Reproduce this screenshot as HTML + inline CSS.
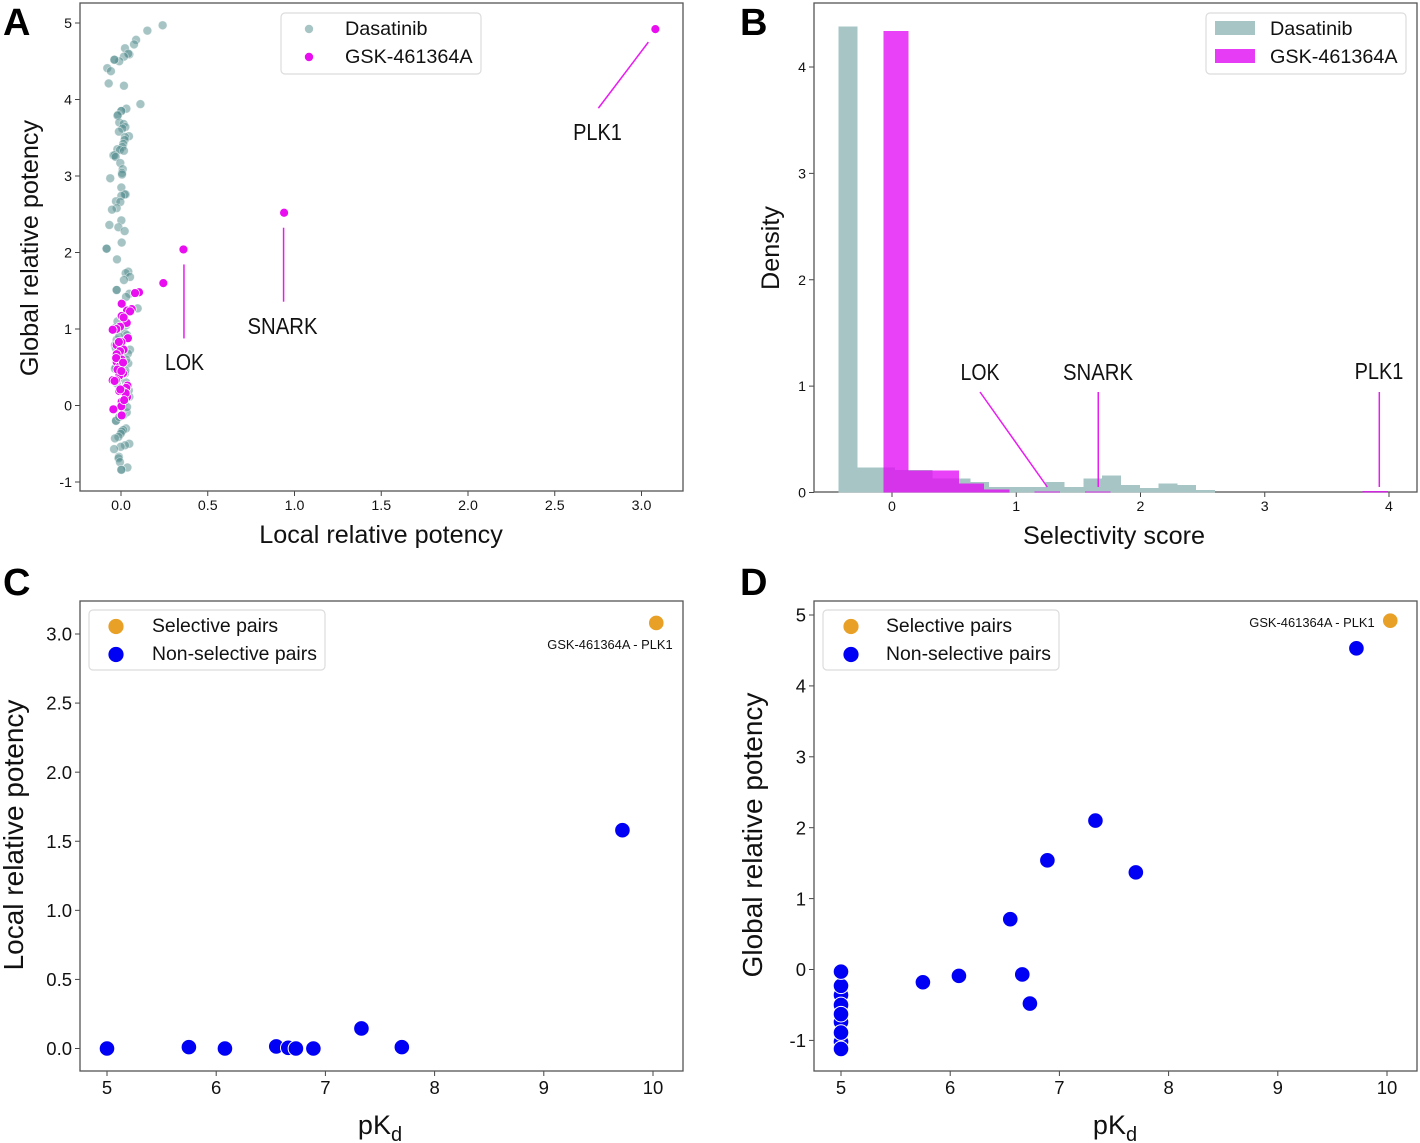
<!DOCTYPE html>
<html lang="en">
<head>
<meta charset="utf-8">
<title>Kinase inhibitor selectivity panels</title>
<style>
html,body{margin:0;padding:0;background:#fff;}
svg{display:block;font-family:"Liberation Sans",sans-serif;}
</style>
</head>
<body>
<svg id="fig" xmlns="http://www.w3.org/2000/svg" width="1420" height="1143" viewBox="0 0 1420 1143"></svg>
<script>
const dasatinibLocal=[.24,.152,.087,.075,.023,.048,.042,.017,-.01,-.038,-.038,-.079,-.058,-.071,.017,.112,.031,.002,.002,-.017,-.02,-.01,.015,.025,.008,-.012,.046,.023,.021,.013,.008,-.021,-.006,.017,-.044,-.038,-.031,-.004,.01,.006,.006,-.062,.002,.027,.022,.002,-.029,-.004,-.025,-.052,.002,-.067,-.015,.021,.004,-.083,-.083,-.023,.042,.027,.052,.017,-.025,-.025,.048,.029,.096,.06,.023,-.025,-.035,.052,.042,-.029,.023,-.025,.048,.01,.033,.013,-.029,-.029,.029,.013,.004,-.002,-.015,-.035,.048,.023,-.002,-.04,-.012,-.014,-.006,.037,.002,.002,.01,-.02,.03,-.03,.035,-.01,-.03,.04,-.02,.03,-.035,.025,-.01,.03,.045,.02,.035,-.01];
const dasatinibGlobal=[4.97,4.90,4.78,4.72,4.67,4.59,4.60,4.56,4.50,4.52,4.52,4.41,4.37,4.21,4.18,3.94,3.88,3.85,3.85,3.80,3.79,3.70,3.68,3.64,3.62,3.58,3.52,3.51,3.47,3.42,3.38,3.35,3.34,3.33,3.27,3.27,3.25,3.17,3.09,3.04,3.02,2.97,2.85,2.76,2.76,2.74,2.67,2.66,2.58,2.56,2.42,2.36,2.33,2.28,2.13,2.05,2.05,1.91,1.75,1.73,1.68,1.64,1.51,1.51,1.46,1.42,1.27,1.26,.94,.86,.79,.73,.55,.50,.42,.29,.115,.0,-.09,-.13,-.20,-.20,-.30,-.32,-.34,-.37,-.41,-.43,-.50,-.52,-.54,-.57,-.67,-.69,-.74,-.81,-.84,-.84,1.15,1.1,1.05,1.02,.92,.9,.75,.68,.64,.6,.48,.46,.36,.3,.2,.05,-.02,-.15];
const gskLocal=[.104,.081,.244,.004,.062,.035,.004,.033,-.006,-.027,-.048,.04,.002,-.025,.015,-.006,-.025,.004,-.025,-.008,.012,-.01,-.029,-.048,.037,.03,-.01,.013,.035,.004,.002,-.044,.004,.052,.015,-.012,-.028,.012,-.02,.002,-.037,.027,.018,-.004,.36,.94,3.08];
const gskGlobal=[1.48,1.47,1.60,1.33,1.26,1.24,1.17,1.08,1.03,1.00,.99,.88,.83,.79,.73,.71,.67,.60,.57,.51,.42,.39,.33,.33,.26,.23,.19,.18,.11,.05,-.01,-.05,-.13,1.23,1.15,.83,.62,.56,.47,.45,.32,.16,.07,.21,2.04,2.52,4.92];
const aXTicks=["0.0","0.5","1.0","1.5","2.0","2.5","3.0"];
const aYTicks=["-1","0","1","2","3","4","5"];

const dasatinibBinStart=-0.43;
const dasatinibBinWidth=0.1515;
const dasatinibDensity=[4.38,.235,.235,.21,.21,.13,.13,.10,.053,.053,.053,.10,.053,.13,.16,.07,.04,.085,.07,.025];
const gskBinStart=-0.07;
const gskBinWidth=0.203;
const gskDensity=[4.34,.207,.207,.085,.03,0,.01,0,.01,0,0,0,0,0,0,0,0,0,0,.012];
const selectivityTargets=["LOK","SNARK","PLK1"];
const selectivityScores=[1.25,1.66,3.93];
const bXTicks=["0","1","2","3","4"];
const bYTicks=["0","1","2","3","4"];

const pKd=[5,5.75,6.08,6.55,6.66,6.73,6.89,7.33,7.70,9.72];
const localPotency=[0,.01,0,.015,.005,0,0,.145,.01,1.58];
const selectivePkd=[10.03];
const selectiveLocal=[3.08];
const cXTicks=["5","6","7","8","9","10"];
const cYTicks=["0.0","0.5","1.0","1.5","2.0","2.5","3.0"];

const pKdD=[5,5,5,5,5,5,5,5,5,5.75,6.08,6.66,6.73,6.55,6.89,7.33,7.70,9.72];
const globalPotency=[-.36,-.74,-1.02,-.5,-.23,-.03,-.63,-.89,-1.12,-.18,-.09,-.07,-.48,.71,1.54,2.1,1.37,4.53];
const selectiveGlobal=[4.92];
const dXTicks=["5","6","7","8","9","10"];
const dYTicks=["-1","0","1","2","3","4","5"];

const NS="http://www.w3.org/2000/svg";
const fig=document.getElementById("fig");
function mk(tag,attrs,parent,txt){
  const e=document.createElementNS(NS,tag);
  for(const k in attrs)e.setAttribute(k,attrs[k]);
  if(txt!==undefined)e.textContent=txt;
  (parent||fig).appendChild(e);
  return e;
}
function linear(d0,p0,d1,p1){return v=>p0+(v-d0)*(p1-p0)/(d1-d0);}

function frame(name,box,xs,ys,xt,yt,size){
  const g=mk("g",{},fig);
  
  
  xt.forEach(t=>{
    const x=xs(parseFloat(t));
    const tick=mk("line",{x1:x,x2:x,y1:box.b,y2:box.b+5,stroke:"#444","stroke-width":1},g);
    
    
    const lab=mk("text",{x:x,y:box.b+5+size*.98,"text-anchor":"middle","font-size":size,fill:"#111"},g,t);
    
    
  });
  yt.forEach(t=>{
    const y=ys(parseFloat(t));
    const tick=mk("line",{x1:box.l-5,x2:box.l,y1:y,y2:y,stroke:"#444","stroke-width":1},g);
    
    
    const lab=mk("text",{x:box.l-8,y:y+size*.36,"text-anchor":"end","font-size":size,fill:"#111"},g,t);
    
    
  });
  const r=mk("rect",{x:box.l,y:box.t,width:box.r-box.l,height:box.b-box.t,fill:"none",stroke:"#555","stroke-width":1.3},g);
  
  
}
function panelLetter(t,x,y){
  const e=mk("text",{x:x,y:y,"font-size":38,"font-weight":"bold",fill:"#000"},fig,t);
  
  
}
function xTitle(t,x,y,size,nm){
  const e=mk("text",{x:x,y:y,"text-anchor":"middle","font-size":size,fill:"#111"},fig,t);
  
  
  return e;
}
function yTitle(t,x,y,size,nm){
  const e=mk("text",{x:0,y:0,transform:"translate("+x+" "+y+") rotate(-90)","text-anchor":"middle","font-size":size,fill:"#111"},fig,t);
  
  
  return e;
}
function pkdTitle(x,y,nm){
  const e=mk("text",{x:x,y:y,"text-anchor":"middle","font-size":27,fill:"#111"},fig);
  
  
  mk("tspan",{},e,"pK");
  mk("tspan",{dy:7,"font-size":20},e,"d");
}
function legendBox(x,y,w,h,nm){
  const e=mk("rect",{x:x,y:y,width:w,height:h,rx:4,fill:"#fff",stroke:"#dcdcdc","stroke-width":1.2},fig);
  
  
}
function legendText(t,x,y,size){
  const e=mk("text",{x:x,y:y,"font-size":size,fill:"#111"},fig,t);
  
  
}
function annotation(t,x1,y1,x2,y2,tx,ty){
  const l=mk("line",{x1:x1,y1:y1,x2:x2,y2:y2,stroke:"#e81cf0","stroke-width":1.5},fig);
  
  
  const e=mk("text",{x:tx,y:ty,"text-anchor":"middle","font-size":23,fill:"#111",textLength:t.length*(t==="LOK"?13:(t==="PLK1"?12.2:14)),lengthAdjust:"spacingAndGlyphs"},fig,t);
  
  
}

/* Panel A */
const boxA={l:80,r:683,t:3,b:491};
const xA=linear(0,121,3,641.5), yA=linear(0,405.5,5,23);
frame("panel-a",boxA,xA,yA,aXTicks,aYTicks,14.2);
dasatinibLocal.forEach((v,i)=>{
  const c=mk("circle",{cx:xA(v),cy:yA(dasatinibGlobal[i]),r:4.4,fill:"#4f8a8b","fill-opacity":.5,stroke:"#fff","stroke-opacity":.5,"stroke-width":.7});
  
  
});
gskLocal.forEach((v,i)=>{
  const c=mk("circle",{cx:xA(v),cy:yA(gskGlobal[i]),r:4.5,fill:"#e80ef0",stroke:"#fff","stroke-width":.8});
  
  
});
legendBox(281,13,200,61,"panel-a-legend");
let lm=mk("circle",{cx:309,cy:29,r:4.2,fill:"#a7c5c5"});


lm=mk("circle",{cx:309,cy:57,r:4.2,fill:"#e80ef0"});


legendText("Dasatinib",345,35,19.8);
legendText("GSK-461364A",345,63,19.8);
const nA=gskLocal.length;
annotation("LOK",xA(gskLocal[nA-3])+.5,yA(gskGlobal[nA-3])+15,xA(gskLocal[nA-3])+.5,yA(gskGlobal[nA-3])+89,184.5,370);
annotation("SNARK",xA(gskLocal[nA-2])-.5,yA(gskGlobal[nA-2])+15,xA(gskLocal[nA-2])-.5,yA(gskGlobal[nA-2])+89,282.5,334);
annotation("PLK1",xA(gskLocal[nA-1])-7,yA(gskGlobal[nA-1])+13,xA(gskLocal[nA-1])-57,yA(gskGlobal[nA-1])+79,597.5,140);
xTitle("Local relative potency",381,543,25.2,"panel-a-x-axis-title");
yTitle("Global relative potency",38,248,25.2,"panel-a-y-axis-title");
panelLetter("A",3,35);

/* Panel B */
const boxB={l:814,r:1417,t:3,b:492};
const xB=linear(0,892,4,1389), yB=linear(0,492.5,4,67);
frame("panel-b",boxB,xB,yB,bXTicks,bYTicks,14.2);
dasatinibDensity.forEach((d,i)=>{
  const x0=xB(dasatinibBinStart+i*dasatinibBinWidth), x1=xB(dasatinibBinStart+(i+1)*dasatinibBinWidth);
  const r=mk("rect",{x:x0,y:yB(d),width:x1-x0,height:yB(0)-yB(d),fill:"#a7c5c4","shape-rendering":"crispEdges"});
  
  
});
gskDensity.forEach((d,i)=>{
  const x0=xB(gskBinStart+i*gskBinWidth), x1=xB(gskBinStart+(i+1)*gskBinWidth);
  const r=mk("rect",{x:x0,y:yB(d),width:x1-x0,height:yB(0)-yB(d),fill:"#e20cf5","fill-opacity":.78,"shape-rendering":"crispEdges"});
  
  
});
legendBox(1206,13,200,61,"panel-b-legend");
lm=mk("rect",{x:1215,y:21,width:40,height:14,fill:"#a7c5c4"});


lm=mk("rect",{x:1215,y:49,width:40,height:14,fill:"#e63cf5"});


legendText("Dasatinib",1270,35,19.8);
legendText("GSK-461364A",1270,63,19.8);
annotation(selectivityTargets[0],980,392,xB(selectivityScores[0])+0,487,980,380);
annotation(selectivityTargets[1],xB(selectivityScores[1]),392,xB(selectivityScores[1]),487,1098,380);
annotation(selectivityTargets[2],xB(selectivityScores[2])-1,392,xB(selectivityScores[2])-1,487,1379,379);
xTitle("Selectivity score",1114,544,25.2,"panel-b-x-axis-title");
yTitle("Density",779,248,25.2,"panel-b-y-axis-title");
panelLetter("B",740,35);

/* Panel C */
const boxC={l:80,r:683,t:601,b:1071};
const xC=linear(5,107,10,653), yC=linear(0,1048.5,3,634);
frame("panel-c",boxC,xC,yC,cXTicks,cYTicks,18.5);
pKd.forEach((v,i)=>{
  const c=mk("circle",{cx:xC(v),cy:yC(localPotency[i]),r:7.8,fill:"#0000f5",stroke:"#fff","stroke-width":1});
  
  
});
selectivePkd.forEach((v,i)=>{
  const c=mk("circle",{cx:xC(v),cy:yC(selectiveLocal[i]),r:7.8,fill:"#e8a026",stroke:"#fff","stroke-width":1});
  
  
});
let pl=mk("text",{x:610,y:649,"text-anchor":"middle","font-size":12.9,fill:"#111"},fig,"GSK-461364A - PLK1");


legendBox(89,610,236,60,"panel-c-legend");
lm=mk("circle",{cx:116,cy:626.5,r:7.6,fill:"#e8a026"});


lm=mk("circle",{cx:116,cy:654.5,r:7.6,fill:"#0000f5"});


legendText("Selective pairs",152,632,19.4);
legendText("Non-selective pairs",152,660,19.4);
pkdTitle(380,1134,"panel-c-x-axis-title");
yTitle("Local relative potency",23,835,28,"panel-c-y-axis-title");
panelLetter("C",3,595);

/* Panel D */
const boxD={l:814,r:1417,t:601,b:1071};
const xD=linear(5,841,10,1387), yD=linear(0,969.5,5,615);
frame("panel-d",boxD,xD,yD,dXTicks,dYTicks,18.5);
pKdD.forEach((v,i)=>{
  const c=mk("circle",{cx:xD(v),cy:yD(globalPotency[i]),r:7.8,fill:"#0000f5",stroke:"#fff","stroke-width":1});
  
  
});
selectivePkd.forEach((v,i)=>{
  const c=mk("circle",{cx:xD(v),cy:yD(selectiveGlobal[i]),r:7.8,fill:"#e8a026",stroke:"#fff","stroke-width":1});
  
  
});
pl=mk("text",{x:1312,y:627,"text-anchor":"middle","font-size":12.9,fill:"#111"},fig,"GSK-461364A - PLK1");


legendBox(823,610,236,60,"panel-d-legend");
lm=mk("circle",{cx:851,cy:626.5,r:7.6,fill:"#e8a026"});


lm=mk("circle",{cx:851,cy:654.5,r:7.6,fill:"#0000f5"});


legendText("Selective pairs",886,632,19.4);
legendText("Non-selective pairs",886,660,19.4);
pkdTitle(1115,1134,"panel-d-x-axis-title");
yTitle("Global relative potency",762,835,28,"panel-d-y-axis-title");
panelLetter("D",740,595);
</script>
</body>
</html>
